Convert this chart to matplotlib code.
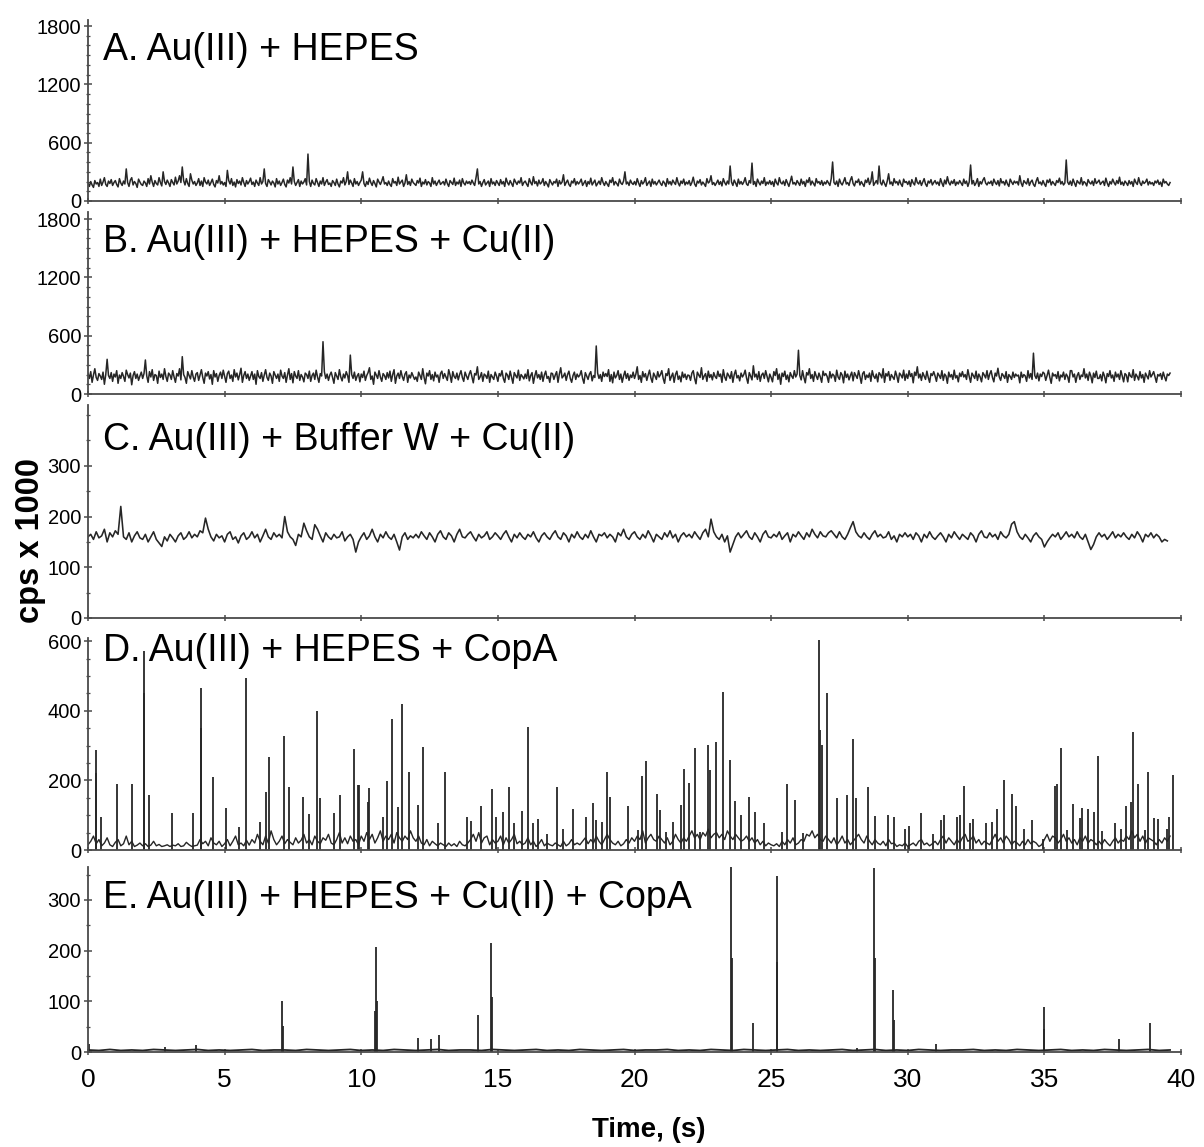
import numpy as np
import matplotlib
matplotlib.use('Agg')
import matplotlib.pyplot as plt
from matplotlib.ticker import MultipleLocator, FixedLocator

plt.rcParams['font.family'] = ['Liberation Sans', 'DejaVu Sans']

# ---------------- data (cps x 1000) ----------------
step_ab = 0.05   # s, sampling of traces A, B
step_c = 0.1     # s, sampling of trace C
step_d = 0.1     # s, sampling of D baseline
step_e = 0.4     # s, sampling of E baseline

a_vals = [
    185,150,200,165,140,210,175,190,150,225,160,195,240,170,150,205,180,220,160,190,
    210,170,145,230,185,160,205,175,330,190,150,215,240,165,200,180,140,225,195,170,
    160,205,185,150,230,175,260,195,150,210,180,165,240,190,155,300,200,170,215,185,
    150,220,190,165,245,175,205,260,190,350,210,165,230,180,150,280,215,175,200,160,
    185,230,160,205,150,240,195,175,215,160,190,225,170,145,210,185,260,175,200,165,
    190,150,315,210,175,230,160,195,145,220,180,205,165,240,190,150,210,175,200,235,
    170,195,150,215,185,160,240,175,200,330,180,150,220,195,165,205,185,145,230,175,
    205,160,190,225,170,145,215,185,240,175,350,200,160,190,220,150,205,175,195,230,
    165,483,200,150,215,180,165,230,190,150,205,175,240,160,195,220,170,185,150,210,
    190,160,225,175,145,205,185,240,165,200,300,170,215,185,150,230,175,200,160,190,
    215,300,180,150,200,170,235,190,160,210,180,145,225,195,170,205,250,175,190,160,
    205,170,150,230,185,200,160,245,175,195,215,150,185,270,170,200,160,225,190,175,
    160,210,185,235,150,195,175,220,165,200,185,150,240,175,205,160,190,215,170,185,
    200,165,225,180,150,210,190,170,235,160,195,175,215,150,230,185,165,205,180,200,
    170,215,185,160,240,330,175,200,150,190,220,165,185,205,150,230,175,195,160,210,
    185,160,220,175,200,150,235,190,165,210,180,150,225,195,170,205,185,240,160,190,
    205,175,150,230,190,165,250,180,200,155,215,175,190,230,160,200,175,145,220,190,
    165,200,185,225,150,210,175,195,270,160,190,215,170,150,205,185,230,165,200,175,
    195,225,160,185,210,150,200,175,235,165,190,215,155,180,205,170,240,190,160,200,
    175,150,215,190,240,165,200,180,155,225,185,170,205,300,175,195,160,215,185,170,
    200,165,230,185,150,210,175,195,240,160,185,205,150,225,175,200,165,190,215,180,
    160,205,185,150,230,175,200,165,215,190,170,240,185,155,205,180,225,165,195,175,
    210,160,190,245,175,150,205,185,220,165,195,175,150,230,185,200,260,170,190,160,
    185,215,170,200,155,230,190,165,205,175,360,195,160,215,185,150,225,175,200,170,
    195,240,175,160,210,185,390,170,200,150,225,190,165,205,180,240,160,195,175,210,
    170,200,150,225,185,165,240,190,175,205,160,220,185,150,200,255,175,190,165,210,
    185,160,225,175,200,150,215,190,240,165,205,180,155,230,185,200,170,210,160,195,
    175,210,185,160,230,401,190,170,205,150,225,185,165,200,240,175,190,160,215,250,
    180,155,205,190,225,165,200,175,150,215,190,235,170,200,300,160,185,210,175,360,
    190,165,215,180,150,205,280,175,195,160,230,185,200,165,215,175,150,225,190,200,
    170,205,150,220,185,165,240,190,175,210,160,195,230,175,150,205,185,220,165,190,
    210,175,195,160,230,185,150,215,175,250,190,165,205,180,220,160,195,175,210,185,
    160,225,180,205,150,195,370,175,210,160,185,230,150,200,175,215,240,185,165,195,
    180,205,160,225,190,170,210,155,230,185,200,165,215,175,150,225,195,170,205,185,
    200,165,260,185,150,210,190,175,230,160,195,215,170,150,205,240,180,195,165,210,
    175,150,215,190,225,165,200,180,160,210,190,235,175,200,165,185,422,195,170,205,
    160,225,185,150,210,190,175,240,165,200,185,155,220,190,175,205,160,230,180,195,
    215,170,190,205,160,235,185,150,200,175,225,190,165,210,180,245,170,195,160,205,
    185,160,210,175,200,150,225,190,170,240,185,160,205,180,195,225,165,200,175,190,
    160,205,185,215,170,195,150,225,185,200,175,160,190,
]

b_vals = [
    210,160,230,120,195,260,170,140,210,185,150,225,100,200,357,190,160,220,130,205,
    175,240,110,195,160,220,180,130,245,200,165,215,95,190,230,160,205,140,185,225,
    160,210,350,185,120,230,175,250,140,200,190,110,235,170,205,150,260,180,130,215,
    195,150,240,175,120,210,185,260,145,384,200,170,110,230,190,155,240,175,130,205,
    220,140,195,250,170,110,215,185,230,155,200,100,240,175,210,130,190,225,160,245,
    180,120,210,235,160,195,130,250,175,215,145,200,265,120,190,230,160,205,140,185,
    230,150,205,100,240,180,160,220,130,195,250,170,140,215,185,110,230,195,160,205,
    130,245,185,160,220,120,195,260,150,210,115,230,185,160,240,140,200,175,125,215,
    200,160,235,130,190,215,150,245,175,120,210,185,538,230,160,205,140,195,225,170,
    110,220,185,150,250,175,135,205,165,230,190,120,400,200,160,225,140,185,210,125,
    205,170,235,140,190,220,270,150,185,100,225,195,160,240,175,130,210,190,150,220,
    165,235,130,200,250,110,185,215,160,240,180,140,205,230,120,195,165,220,185,150,
    175,130,225,190,150,260,170,105,215,185,240,150,200,135,225,175,195,120,210,235,
    160,210,175,140,250,195,120,230,180,160,215,145,200,240,170,130,225,185,150,205,
    240,180,115,210,195,280,150,175,220,130,205,190,160,235,120,200,175,150,225,185,
    130,210,185,240,160,120,215,195,150,235,175,110,220,190,165,245,140,200,180,155,
    205,160,250,135,190,220,110,185,240,165,200,150,225,130,195,235,160,180,120,215,
    210,150,195,230,120,205,270,165,185,215,140,200,235,160,120,190,225,150,205,175,
    195,240,160,110,220,185,150,205,230,135,190,170,494,215,160,200,130,225,180,210,
    180,250,130,200,115,225,165,190,240,150,205,120,185,235,160,210,140,195,170,225,
    160,205,280,150,190,120,230,175,210,140,195,245,165,120,215,185,150,230,175,200,
    240,160,110,210,190,260,140,180,215,120,200,235,150,185,125,225,170,205,150,195,
    190,140,215,240,160,105,225,195,170,270,150,185,210,130,235,170,200,145,220,180,
    160,235,180,205,120,250,175,140,215,190,160,230,120,200,245,165,190,135,215,175,
    200,245,165,110,220,185,145,290,175,205,150,230,130,195,215,160,240,180,125,205,
    170,125,230,190,260,150,205,100,215,180,235,150,195,125,220,185,160,240,175,205,
    450,190,145,240,170,115,220,195,260,160,200,130,230,185,150,215,175,120,235,190,
    210,180,120,230,165,205,190,130,245,175,150,220,195,115,235,170,205,145,190,225,
    135,220,190,160,240,180,110,210,230,150,195,170,215,130,240,185,160,205,125,220,
    200,165,260,120,210,185,230,140,200,175,150,235,185,120,215,195,165,245,140,205,
    160,240,180,210,115,225,190,280,165,205,140,220,185,150,235,170,120,210,190,230,
    185,130,215,190,160,240,140,205,185,110,225,175,200,150,245,165,190,125,215,180,
    230,175,200,150,250,180,120,215,190,160,235,140,205,175,125,220,195,165,240,150,
    205,240,170,125,215,185,265,175,140,210,190,160,230,120,200,180,150,225,170,205,
    185,195,115,225,170,200,185,130,240,165,210,150,420,190,160,215,135,205,180,225,
    210,140,190,245,170,110,215,185,200,160,230,135,195,175,225,150,205,180,120,240,
    240,175,205,120,190,220,150,195,180,260,165,205,140,225,185,115,215,170,235,160,
    160,200,135,225,185,115,210,180,240,165,195,130,225,175,205,150,240,185,125,210,
    195,125,220,185,170,250,140,205,180,145,230,165,200,120,215,185,155,240,175,200,
    230,175,120,200,185,210,150,225,175,135,205,190,215,
]

c_vals = [
    160,165,155,170,158,162,175,150,168,160,
    172,165,220,160,155,168,150,162,170,158,
    155,165,150,160,170,155,148,141,160,152,
    165,158,150,162,168,155,160,170,158,165,
    160,172,168,197,175,160,152,165,158,162,
    150,165,170,155,160,148,162,168,155,160,
    170,158,165,150,162,175,160,155,168,160,
    165,158,200,170,160,155,143,165,160,187,
    172,160,155,184,175,162,150,168,160,155,
    165,158,160,170,152,160,165,155,130,150,
    160,168,155,162,175,160,150,165,158,170,
    160,155,165,150,134,160,168,155,162,158,
    165,158,170,162,155,168,160,150,165,172,
    160,155,168,162,150,165,175,160,158,165,
    170,160,152,165,158,162,170,155,160,168,
    162,155,165,172,160,150,165,158,168,160,
    155,165,160,170,158,150,162,168,160,155,
    165,172,160,155,168,162,150,165,158,170,
    160,155,165,158,172,160,150,165,162,168,
    158,165,160,150,168,162,175,160,155,165,
    170,160,155,165,158,172,162,150,165,160,
    155,168,160,172,158,165,150,162,168,160,
    165,158,170,162,155,168,175,160,195,170,
    160,155,165,150,162,130,145,160,168,158,
    165,172,160,155,168,160,150,165,172,160,
    158,165,160,170,155,162,168,150,165,160,
    170,162,155,168,160,175,165,158,170,162,
    160,168,172,165,158,170,160,155,165,178,
    190,170,162,158,168,160,155,165,172,160,
    165,158,160,170,155,162,150,165,160,168,
    160,165,155,168,162,150,165,158,170,160,
    155,162,168,160,150,165,158,170,162,155,
    165,160,155,168,162,150,165,172,160,158,
    168,160,165,155,170,162,158,165,185,190,
    170,160,155,165,158,150,162,168,160,155,
    140,150,158,165,160,168,155,162,170,160,
    165,158,170,160,155,165,150,135,145,160,
    168,160,165,155,162,170,158,165,160,168,
    160,155,165,158,170,162,150,165,160,168,
    158,165,160,150,155,152,
]

d_base = [
    15,25,40,18,30,12,20,35,15,10,
    22,30,12,18,40,15,25,10,14,20,
    12,18,10,14,25,12,16,10,12,15,
    10,14,12,18,10,12,22,15,10,12,
    14,30,18,25,12,35,20,15,25,10,
    18,30,12,25,40,15,20,12,28,14,
    30,20,45,25,15,40,20,55,30,15,
    25,40,18,30,22,15,35,20,28,45,
    20,30,15,40,25,18,35,28,45,20,
    15,30,50,20,35,18,40,25,30,15,
    40,25,50,30,45,20,35,55,25,40,
    30,45,20,50,35,25,40,30,55,35,
    25,40,20,15,30,12,25,18,12,20,
    15,10,20,12,18,10,25,15,12,20,
    30,45,25,50,20,35,40,15,30,20,
    25,40,15,35,20,30,45,18,25,15,
    20,35,15,25,10,18,30,12,20,15,
    12,20,15,10,25,12,18,30,15,20,
    15,25,35,18,30,20,40,25,15,30,
    45,30,20,15,25,12,18,30,20,35,
    25,40,30,55,20,35,45,30,25,40,
    30,20,35,15,25,45,30,20,35,25,
    40,55,35,45,30,50,40,60,35,45,
    50,35,45,30,55,40,30,45,35,25,
    30,40,25,35,20,30,15,25,12,20,
    15,12,18,10,25,15,30,20,35,15,
    20,30,25,45,40,55,35,45,30,25,
    40,30,20,35,15,25,40,20,30,15,
    25,35,45,30,20,40,25,15,30,20,
    15,25,12,30,18,20,10,15,12,20,
    10,15,20,12,25,30,15,20,12,18,
    25,15,30,40,20,35,25,15,30,20,
    35,45,25,30,40,20,30,15,25,20,
    15,30,45,25,35,20,40,30,15,25,
    20,12,25,15,30,18,25,20,10,15,
    30,45,25,40,35,20,30,45,25,35,
    20,30,15,35,25,40,20,30,25,15,
    25,15,30,20,12,25,35,20,30,25,
    40,30,55,35,45,25,40,20,35,30,
    25,15,30,20,35,25,40,
]

d_spike_t = [0.29,0.31,0.46,1.07,1.60,2.04,2.06,2.25,3.09,3.85,4.12,4.14,4.59,5.04,5.53,5.80,
             6.31,6.50,6.64,7.18,7.35,7.88,8.09,8.37,8.49,9.01,9.22,9.75,9.87,9.92,10.23,10.29,
             10.78,10.93,11.14,11.36,11.50,11.75,12.09,12.27,12.82,13.06,13.88,14.01,14.37,14.79,
             14.93,15.20,15.41,15.58,15.87,16.09,16.27,16.48,16.81,17.15,17.37,17.74,18.22,18.49,
             18.59,18.80,19.00,19.10,19.77,20.14,20.28,20.41,20.81,20.93,21.17,21.42,21.72,21.82,
             21.99,22.21,22.39,22.69,22.76,23.00,23.25,23.49,23.67,23.88,24.20,24.40,24.75,25.38,
             25.57,25.88,26.18,26.75,26.78,26.85,27.06,27.42,27.78,28.00,28.10,28.55,28.80,29.28,
             29.49,29.89,30.04,30.50,30.93,31.20,31.33,31.81,31.91,32.05,32.27,32.39,32.88,33.10,
             33.25,33.51,33.83,33.95,34.26,34.53,34.96,35.38,35.47,35.60,35.83,36.05,36.30,36.39,
             36.58,36.81,36.95,37.10,37.58,37.80,37.97,38.17,38.25,38.41,38.68,38.81,39.01,39.16,
             39.47,39.55,39.69]
d_spike_h = [287,220,96,191,189,572,450,158,105,107,464,350,209,120,67,493,
             81,167,268,327,180,153,103,399,148,107,158,289,187,187,139,177,
             96,199,375,124,419,225,129,297,77,225,96,84,126,175,
             96,110,182,78,112,354,77,88,46,180,59,117,94,136,
             86,81,225,153,126,57,213,256,160,115,53,81,129,234,
             193,293,53,301,230,309,455,258,142,100,153,110,78,53,
             191,145,48,603,345,301,452,148,158,318,148,182,98,100,
             96,59,69,107,46,86,100,96,100,185,78,88,77,81,
             117,201,161,126,59,86,33,184,189,293,57,132,91,120,
             117,110,270,56,78,59,126,139,338,189,57,223,91,88,
             59,96,215]

e_base = [
    4,3,5,3,4,3,5,4,3,4, 5,3,4,3,4,5,3,4,4,3,
    5,4,3,4,5,3,4,3,5,4, 3,4,5,3,4,4,3,5,4,3,
    4,5,3,4,3,5,4,3,4,5, 3,4,4,5,3,4,3,5,4,3,
    5,4,3,4,5,3,4,3,4,5, 3,4,5,3,4,3,5,4,3,4,
    4,5,3,4,3,5,4,3,4,5, 3,4,3,5,4,3,4,5,3,4,
]
e_spike_t = [0.04,2.82,3.96,7.09,7.12,10.50,10.55,10.58,12.07,12.55,12.84,14.29,14.75,14.78,
             23.52,23.55,24.32,25.20,25.23,28.14,28.76,28.79,29.45,29.48,31.03,34.97,35.00,
             37.74,38.86]
e_spike_h = [15,10,13,100,51,80,207,100,28,26,33,73,216,108,
             365,185,57,347,177,8,363,185,122,63,15,89,46,
             25,57]

panel_titles = ["A. Au(III) + HEPES",
                "B. Au(III) + HEPES + Cu(II)",
                "C. Au(III) + Buffer W + Cu(II)",
                "D. Au(III) + HEPES + CopA",
                "E. Au(III) + HEPES + Cu(II) + CopA"]
x_ticks = [0, 5, 10, 15, 20, 25, 30, 35, 40]
y_major = [[0, 600, 1200, 1800], [0, 600, 1200, 1800], [0, 100, 200, 300],
           [0, 200, 400, 600], [0, 100, 200, 300]]
y_minor_step = [100, 100, 50, 50, 50]
y_top = [1862, 1872, 420, 609, 365]
x_label = "Time, (s)"
y_label = "cps x 1000"

# ---------------- figure ----------------
W, H = 1204, 1147
fig = plt.figure(figsize=(W / 100, H / 100), dpi=100)

panel_px = [(20, 201), (212, 394), (405, 618), (638, 850), (867, 1052)]
title_base_px = [60, 252, 450, 661, 908]
left_px, right_px = 88, 1181

line_col = '#262626'
spine_col = '#4a4a4a'

axes = []
for i, (top, bot) in enumerate(panel_px):
    ax = fig.add_axes([left_px / W, 1 - bot / H, (right_px - left_px) / W, (bot - top) / H])
    axes.append(ax)
    ax.set_xlim(0, 40)
    ax.set_ylim(0, y_top[i])
    for s in ['top', 'right']:
        ax.spines[s].set_visible(False)
    for s in ['left', 'bottom']:
        ax.spines[s].set_color(spine_col)
        ax.spines[s].set_linewidth(1.3)
    ax.yaxis.set_major_locator(FixedLocator(y_major[i]))
    ax.yaxis.set_minor_locator(MultipleLocator(y_minor_step[i]))
    ax.xaxis.set_major_locator(FixedLocator(x_ticks))
    ax.tick_params(axis='y', which='major', direction='inout', length=6, width=1.1,
                   color=spine_col, labelsize=14.5, pad=2)
    ax.tick_params(axis='y', which='minor', direction='inout', length=3.5, width=0.9,
                   color=spine_col)
    ax.tick_params(axis='x', which='major', direction='inout', length=5, width=1.1,
                   color=spine_col, labelsize=19, pad=9)
    if i < 4:
        ax.tick_params(axis='x', labelbottom=False)
    fig.text(103 / W, 1 - title_base_px[i] / H, panel_titles[i], fontsize=27,
             ha='left', va='baseline', color='black')

t_a = np.arange(len(a_vals)) * step_ab
t_b = np.arange(len(b_vals)) * step_ab
t_c = np.arange(len(c_vals)) * step_c
t_d = np.arange(len(d_base)) * step_d
t_e = np.arange(len(e_base)) * step_e

axes[0].plot(t_a, a_vals, color=line_col, lw=1.1)
axes[1].plot(t_b, b_vals, color=line_col, lw=1.1)
axes[2].plot(t_c, c_vals, color=line_col, lw=1.15)
axes[3].plot(t_d, d_base, color=line_col, lw=1.0)
axes[3].vlines(d_spike_t, 0, d_spike_h, color=line_col, lw=1.3)
axes[4].plot(t_e, e_base, color=line_col, lw=1.3)
axes[4].vlines(e_spike_t, 0, e_spike_h, color=line_col, lw=1.3)

fig.text(31 / W, 1 - 540 / H, y_label, rotation=90, fontsize=23.5, fontweight='bold',
         ha='center', va='center')
fig.text(649 / W, 1 - 1130 / H, x_label, fontsize=20, fontweight='bold',
         ha='center', va='center')

fig.savefig('out.png', dpi=100)
